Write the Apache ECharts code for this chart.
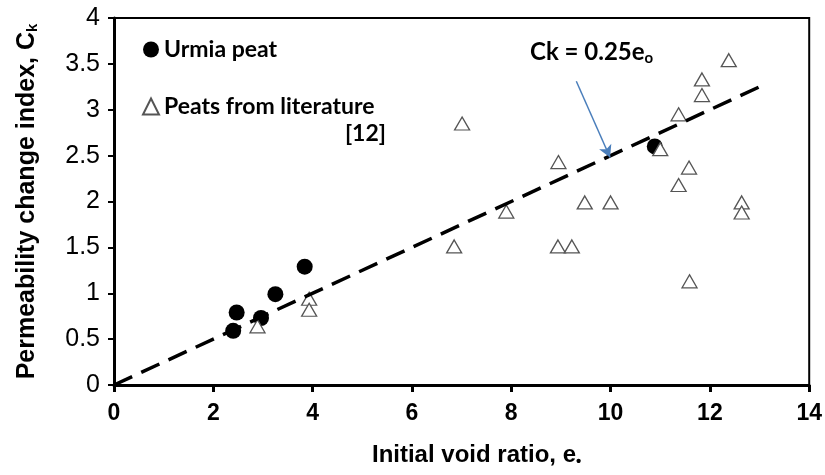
<!DOCTYPE html>
<html>
<head>
<meta charset="utf-8">
<script src="https://cdn.jsdelivr.net/npm/echarts@6/dist/echarts.min.js"></script>
<style>html,body{margin:0;padding:0;background:#fff}#c{width:825px;height:475px}</style>
</head>
<body>
<div id="c"></div>
<script>
// Urmia peat (filled circles)
const urmiaX = [2.40, 2.47, 2.96, 3.25, 3.84, 10.89];
const urmiaY = [0.59, 0.79, 0.73, 0.99, 1.29, 2.60];
// Peats from literature [12] (open triangles)
const litX = [2.89, 3.93, 3.93, 7.01, 6.85, 7.90, 8.95, 8.94, 9.22, 9.48, 10.00, 11.00, 11.37, 11.37, 11.58, 11.59, 11.84, 11.84, 12.38, 12.64, 12.64];
const litY = [0.64, 0.94, 0.82, 2.85, 1.51, 1.89, 2.43, 1.51, 1.51, 1.99, 1.99, 2.57, 2.95, 2.18, 2.37, 1.13, 3.33, 3.16, 3.54, 1.99, 1.88];
// Fitted line Ck = 0.25 e0
const fitX = [0, 13];
const fitY = [0, 3.25];
// annotation arrow (data coords)
const arrowFrom = [9.31, 3.31];
const arrowTo = [9.99, 2.48];
// axis ticks
const xTicks = [0, 2, 4, 6, 8, 10, 12, 14];
const yTicks = [0, 0.5, 1, 1.5, 2, 2.5, 3, 3.5, 4];

const zip = (a, b) => a.map((v, i) => [v, b[i]]);
const chart = echarts.init(document.getElementById('c'), null, {renderer: 'canvas'});
const legendFont = 'Lato, "Open Sans", sans-serif';
const arial = '"Liberation Sans", Arial, sans-serif';
chart.setOption({
  animation: false,
  backgroundColor: '#fff',
  grid: {left: 114, right: 15, top: 18, bottom: 90, show: true, borderColor: '#000', borderWidth: 2},
  legend: {
    orient: 'vertical', left: 137, top: 33, itemGap: 34, itemWidth: 16, itemHeight: 16, itemStyle: {opacity: 1},
    textStyle: {fontFamily: legendFont, fontWeight: 'bold', fontSize: 23, color: '#000'},
    data: [{name: 'Urmia peat'}, {name: 'Peats from literature'}]
  },
  xAxis: {
    type: 'value', min: xTicks[0], max: xTicks[xTicks.length - 1], interval: 2,
    axisLine: {lineStyle: {color: '#000', width: 3}},
    axisTick: {show: true, length: 7, lineStyle: {color: '#000', width: 3}},
    splitLine: {show: false},
    axisLabel: {margin: 17, color: '#000', fontSize: 23, fontFamily: arial, fontWeight: 'bold'},
    name: '{t|Initial void ratio, e}{s|•}', nameLocation: 'middle', nameGap: 57,
    nameTextStyle: {padding: [0, 0, 0, 30], rich: {
      t: {fontSize: 24, fontWeight: 'bold', color: '#000', fontFamily: arial},
      s: {fontSize: 15, fontWeight: 'bold', color: '#000', padding: [12, 0, 0, 0], fontFamily: arial}
    }}
  },
  yAxis: {
    type: 'value', min: yTicks[0], max: yTicks[yTicks.length - 1], interval: 0.5,
    axisLine: {show: true, lineStyle: {color: '#000', width: 3}},
    axisTick: {show: true, length: 6, lineStyle: {color: '#000', width: 2}},
    splitLine: {show: false},
    axisLabel: {margin: 14, color: '#000', fontSize: 25, fontFamily: arial},
    name: '{t|Permeability change index, C}{s|k}', nameLocation: 'middle', nameGap: 74,
    nameTextStyle: {rich: {
      t: {fontSize: 25, fontWeight: 'bold', color: '#000', fontFamily: arial},
      s: {fontSize: 15, fontWeight: 'bold', color: '#000', padding: [10, 0, 0, 0], fontFamily: arial}
    }}
  },
  series: [
    {
      name: 'Urmia peat', type: 'scatter', symbol: 'circle', symbolSize: 16, z: 2,
      itemStyle: {color: '#000', opacity: 1},
      data: zip(urmiaX, urmiaY)
    },
    {
      name: 'Peats from literature', type: 'scatter', symbol: 'triangle', symbolSize: [15, 13], z: 3,
      itemStyle: {color: '#fff', borderColor: '#555', borderWidth: 1.3, opacity: 1},
      data: zip(litX, litY)
    },
    {
      name: 'fit', type: 'line', z: 4, symbol: 'none', silent: true,
      lineStyle: {color: '#000', width: 3.5, type: [20, 10]},
      data: zip(fitX, fitY),
      markLine: {
        silent: true, symbol: ['none', 'arrow'], symbolSize: [10, 12],
        label: {show: false},
        lineStyle: {color: '#4a7ebb', width: 1.5, type: 'solid'},
        data: [[{coord: arrowFrom}, {coord: arrowTo}]]
      }
    }
  ],
  graphic: [
    {type: 'text', right: 825 - 386, top: 122,
     style: {text: '[12]', fontFamily: legendFont, fontWeight: 'bold', fontSize: 23, fill: '#000'}},
    {type: 'text', left: 530, top: 40,
     style: {text: '{t|Ck = 0.25e}{s|o}', rich: {
       t: {fontFamily: legendFont, fontWeight: 'bold', fontSize: 24, fill: '#000'},
       s: {fontFamily: legendFont, fontWeight: 'bold', fontSize: 15, fill: '#000', padding: [12, 0, 0, 0]}
     }}}
  ]
});
</script>
</body>
</html>
